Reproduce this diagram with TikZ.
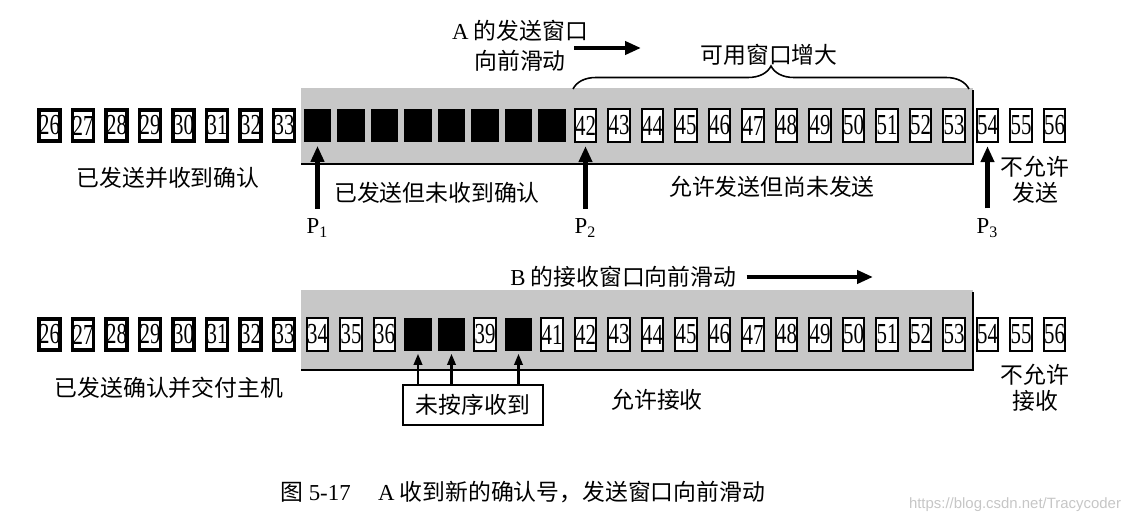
\documentclass[tikz,border=0pt]{standalone}
\usepackage{fontspec}
\setmainfont{Liberation Serif}
\newfontfamily\cjk{Noto Sans CJK SC}
\newfontfamily\wmfont{Liberation Sans}
\usetikzlibrary{arrows.meta,decorations.pathreplacing}
\newcommand{\seqno}[1]{\scalebox{0.72}[1]{#1}}
\tikzset{
	cell/.style={draw, fill=white, line width=1pt, minimum width=0.43cm, minimum height=0.65cm, inner sep=0pt, font=\fontsize{16.5}{16.5}\selectfont},
	acked/.style={cell, line width=1.9pt, minimum width=0.40cm, minimum height=0.62cm},
	sentbox/.style={cell, fill=black, minimum width=0.52cm, minimum height=0.64cm},
	zh/.style={font=\cjk\fontsize{13}{15}\selectfont, inner sep=0pt, align=center},
	plabel/.style={font=\fontsize{13}{13}\selectfont, inner sep=0pt},
	window/.style={fill=black!22},
	shade/.style={line width=1.6pt},
	bigarr/.style={line width=2.3pt, -{Triangle[width=0.26cm,length=0.32cm]}},
	smallarr/.style={line width=1.2pt, -{Triangle[width=0.17cm,length=0.22cm]}},
}
\begin{document}
\begin{tikzpicture}[x=0.02cm, y=-0.02cm]
	\useasboundingbox (0,0) rectangle (1137,523);

	\fill[window] (301,88) rectangle (973,164);
	\draw[shade] (301,164) -- (973,164) -- (973,90);
	\fill[window] (301,290) rectangle (973,370);
	\draw[shade] (301,370) -- (973,370) -- (973,292);

	\foreach \n in {26,...,33}
	{
		\node[acked] (t\n) at ({49.5+(\n-26)*33.5},125.5) {\seqno{\n}};
		\node[acked] (b\n) at ({49.5+(\n-26)*33.5},334.5) {\seqno{\n}};
	}
	\foreach \n in {34,...,41}
	{
		\node[sentbox] (t\n) at ({49.5+(\n-26)*33.5},125.5) {};
	}
	\foreach \n in {42,...,56}
	{
		\node[cell] (t\n) at ({49.5+(\n-26)*33.5},125.5) {\seqno{\n}};
	}
	\foreach \n in {34,35,36,39}
	{
		\node[cell] (b\n) at ({49.5+(\n-26)*33.5},334.5) {\seqno{\n}};
	}
	\foreach \n in {41,...,56}
	{
		\node[cell] (b\n) at ({49.5+(\n-26)*33.5},334.5) {\seqno{\n}};
	}
	\foreach \n in {37,38,40}
	{
		\node[sentbox] (b\n) at ({49.5+(\n-26)*33.5},334.5) {};
	}

	\node[zh, font=\cjk\fontsize{13}{17}\selectfont] (aslide) at (520,46) {{\rmfamily A} 的发送窗口\\向前滑动};
	\coordinate (astart) at (574,48);
	\coordinate (aend) at (641,48);
	\draw[bigarr] (astart) -- (aend);

	\draw[line width=0.9pt, decorate, decoration={brace, amplitude=0.46cm}] (573,89) -- (969,89);
	\node[zh] (grow) at (769,55) {可用窗口增大};

	\foreach \p/\c in {1/34, 2/42, 3/54}
	{
		\node[plabel] (p\p) at (t\c |- 0,228) {P\textsubscript{\p}};
		\draw[bigarr, shorten <=0.2cm, shorten >=0.07cm] (p\p.north) -- (t\c.south);
	}

	\node[zh] (lacked) at (168,178) {已发送并收到确认};
	\node[zh] (lunack) at (437,193) {已发送但未收到确认};
	\node[zh] (lusable) at (772,187) {允许发送但尚未发送};
	\node[zh] (lnosend) at (1035,180) {不允许\\发送};

	\node[zh, anchor=west] (bslide) at (510,277) {{\rmfamily B} 的接收窗口向前滑动};
	\coordinate (bend) at (873,277);
	\draw[bigarr, shorten <=0.2cm] (bslide.east) -- (bend);

	\node[zh, draw, line width=0.8pt, minimum width=2.8cm, minimum height=0.8cm] (ooo) at (473,405) {未按序收到};
	\foreach \c in {37,38,40}
	{
		\draw[smallarr, shorten >=0.05cm] (ooo.north -| b\c) -- (b\c.south);
	}

	\node[zh] (ldeliv) at (169,388) {已发送确认并交付主机};
	\node[zh] (lrecv) at (657,400) {允许接收};
	\node[zh] (lnorecv) at (1035,388) {不允许\\接收};

	\node[zh] (cap) at (523,492) {图~{\rmfamily 5-17\hspace{1.2em}A} 收到新的确认号，发送窗口向前滑动};
	\node[font=\wmfont\fontsize{8.5}{8.5}\selectfont, text=gray!45, inner sep=0pt] (wm) at (1015,505) {https://blog.csdn.net/Tracycoder};
\end{tikzpicture}
\end{document}
